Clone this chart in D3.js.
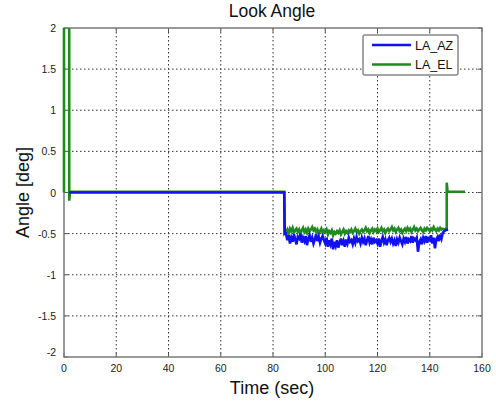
<!DOCTYPE html>
<html>
<head>
    <script src="https://d3js.org/d3.v7.min.js"></script>
    <style>
        body { margin: 0; background: #fff; }
        svg { font-family: "Liberation Sans", Arial, sans-serif; }
        .grid line { stroke: #333; stroke-width: 1; stroke-dasharray: 1.5,2.5; }
        .tick-label { font-size: 10.5px; fill: #222; }
    </style>
</head>
<body>
<div id="chart"></div>
<script>
    // axis ticks
    const xTicks = [0, 20, 40, 60, 80, 100, 120, 140, 160];
    const yTicks = [-2, -1.5, -1, -0.5, 0, 0.5, 1, 1.5, 2];

    // noisy segment, sampled every 0.5 s from 85 to 146 s
    const noiseStart = 85, noiseStep = 0.5;
    const azNoise = [
        -0.50,-0.58,-0.52,-0.62,-0.55,-0.60,-0.51,-0.57,-0.63,-0.54,
        -0.56,-0.50,-0.61,-0.55,-0.59,-0.53,-0.64,-0.56,-0.52,-0.60,
        -0.55,-0.62,-0.57,-0.51,-0.59,-0.54,-0.61,-0.56,-0.53,-0.58,
        -0.62,-0.55,-0.66,-0.58,-0.63,-0.56,-0.69,-0.60,-0.65,-0.58,
        -0.67,-0.61,-0.56,-0.64,-0.59,-0.66,-0.57,-0.62,-0.55,-0.60,
        -0.58,-0.63,-0.56,-0.61,-0.54,-0.59,-0.57,-0.62,-0.55,-0.60,
        -0.56,-0.64,-0.58,-0.53,-0.61,-0.57,-0.63,-0.55,-0.60,-0.58,
        -0.62,-0.56,-0.66,-0.59,-0.54,-0.61,-0.57,-0.64,-0.58,-0.55,
        -0.60,-0.56,-0.62,-0.58,-0.65,-0.57,-0.61,-0.55,-0.59,-0.63,
        -0.56,-0.60,-0.54,-0.62,-0.57,-0.59,-0.53,-0.61,-0.56,-0.58,
        -0.55,-0.72,-0.60,-0.57,-0.63,-0.55,-0.59,-0.53,-0.61,-0.56,
        -0.58,-0.52,-0.62,-0.55,-0.68,-0.57,-0.54,-0.59,-0.51,-0.56,
        -0.49,-0.47,-0.46
    ];
    const elNoise = [
        -0.48,-0.45,-0.50,-0.44,-0.47,-0.43,-0.49,-0.46,-0.44,-0.48,
        -0.45,-0.50,-0.46,-0.43,-0.48,-0.45,-0.49,-0.44,-0.47,-0.45,
        -0.42,-0.46,-0.44,-0.48,-0.45,-0.50,-0.47,-0.44,-0.49,-0.46,
        -0.48,-0.45,-0.51,-0.47,-0.49,-0.46,-0.52,-0.48,-0.50,-0.47,
        -0.49,-0.46,-0.51,-0.48,-0.45,-0.50,-0.47,-0.49,-0.46,-0.48,
        -0.45,-0.49,-0.47,-0.44,-0.48,-0.46,-0.50,-0.47,-0.45,-0.48,
        -0.46,-0.43,-0.47,-0.45,-0.49,-0.46,-0.44,-0.48,-0.45,-0.47,
        -0.44,-0.48,-0.46,-0.43,-0.47,-0.45,-0.49,-0.46,-0.44,-0.47,
        -0.45,-0.42,-0.46,-0.44,-0.48,-0.45,-0.43,-0.47,-0.45,-0.49,
        -0.46,-0.44,-0.47,-0.43,-0.46,-0.44,-0.48,-0.45,-0.42,-0.46,
        -0.44,-0.47,-0.45,-0.43,-0.46,-0.48,-0.44,-0.46,-0.43,-0.45,
        -0.47,-0.44,-0.46,-0.42,-0.45,-0.47,-0.44,-0.46,-0.43,-0.45,
        -0.44,-0.45,-0.44
    ];

    // steady parts of each trace [time, angle]
    const azHead = [[2, 0], [84.3, 0], [84.5, -0.5]];
    const azTail = [[147, -0.45]];
    const elHead = [[0, 0], [0, 3], [2, 3], [2, -0.1], [2.3, 0.01], [84.3, 0.01], [84.4, -0.5]];
    const elTail = [[146.5, -0.44], [146.5, 0.12], [146.8, 0.01], [153.5, 0.01]];

    const toPts = (arr) => arr.map((v, i) => [noiseStart + i * noiseStep, v]);
    const azData = azHead.concat(toPts(azNoise), azTail);
    const elData = elHead.concat(toPts(elNoise), elTail);

    const width = 496, height = 402;
    const margin = {top: 28, right: 14, bottom: 45, left: 64};

    const x = d3.scaleLinear().domain([0, 160]).range([margin.left, width - margin.right]);
    const y = d3.scaleLinear().domain([-2, 2]).range([height - margin.bottom, margin.top]);

    const svg = d3.select("#chart").append("svg")
        .attr("width", width)
        .attr("height", height);

    svg.append("defs").append("clipPath").attr("id", "clip")
        .append("rect")
        .attr("x", x(0) - 3).attr("y", y(2))
        .attr("width", x(160) - x(0) + 3).attr("height", y(-2) - y(2));

    // dotted grid
    const grid = svg.append("g").attr("class", "grid");
    grid.selectAll(".gx").data(xTicks.slice(1, -1)).join("line")
        .attr("x1", d => x(d)).attr("x2", d => x(d))
        .attr("y1", y(2)).attr("y2", y(-2));
    grid.selectAll(".gy").data(yTicks.slice(1, -1)).join("line")
        .attr("y1", d => y(d)).attr("y2", d => y(d))
        .attr("x1", x(0)).attr("x2", x(160));

    // inner ticks on all four sides
    const tk = svg.append("g").attr("stroke", "#555").attr("stroke-width", 1);
    xTicks.forEach(d => {
        tk.append("line").attr("x1", x(d)).attr("x2", x(d)).attr("y1", y(-2)).attr("y2", y(-2) - 4);
        tk.append("line").attr("x1", x(d)).attr("x2", x(d)).attr("y1", y(2)).attr("y2", y(2) + 4);
    });
    yTicks.forEach(d => {
        tk.append("line").attr("y1", y(d)).attr("y2", y(d)).attr("x1", x(0)).attr("x2", x(0) + 4);
        tk.append("line").attr("y1", y(d)).attr("y2", y(d)).attr("x1", x(160)).attr("x2", x(160) - 4);
    });

    // axes box
    svg.append("rect")
        .attr("x", x(0)).attr("y", y(2))
        .attr("width", x(160) - x(0)).attr("height", y(-2) - y(2))
        .attr("fill", "none").attr("stroke", "#7a7a7a").attr("stroke-width", 1.5);

    const line = d3.line().x(d => x(d[0])).y(d => y(d[1]));
    const plot = svg.append("g").attr("clip-path", "url(#clip)");

    plot.append("path").datum(elData)
        .attr("d", line).attr("fill", "none")
        .attr("stroke", "#1f8a1f").attr("stroke-width", 2.6);
    plot.append("path").datum(azData)
        .attr("d", line).attr("fill", "none")
        .attr("stroke", "#1010f0").attr("stroke-width", 2.6);

    // tick labels
    svg.append("g").selectAll("text").data(xTicks).join("text")
        .attr("class", "tick-label")
        .attr("x", d => x(d)).attr("y", y(-2) + 15)
        .attr("text-anchor", "middle")
        .text(d => d);
    svg.append("g").selectAll("text").data(yTicks).join("text")
        .attr("class", "tick-label")
        .attr("x", x(0) - 8)
        .attr("y", d => d === -2 ? y(d) - 1 : y(d) + 4)
        .attr("text-anchor", "end")
        .text(d => d);

    // titles
    svg.append("text")
        .attr("x", (x(0) + x(160)) / 2 - 1).attr("y", 17)
        .attr("text-anchor", "middle").attr("font-size", 17.5).attr("fill", "#111")
        .text("Look Angle");
    svg.append("text")
        .attr("x", (x(0) + x(160)) / 2 - 1).attr("y", 394)
        .attr("text-anchor", "middle").attr("font-size", 18).attr("fill", "#111")
        .text("Time (sec)");
    svg.append("text")
        .attr("transform", `translate(29,${y(0)}) rotate(-90)`)
        .attr("text-anchor", "middle").attr("font-size", 18).attr("fill", "#111")
        .text("Angle [deg]");

    // legend
    const series = ["LA_AZ", "LA_EL"];
    const colors = ["#1010f0", "#1f8a1f"];
    const lg = svg.append("g").attr("transform", "translate(363,35)");
    lg.append("rect")
        .attr("width", 95).attr("height", 40).attr("rx", 2)
        .attr("fill", "#fff").attr("stroke", "#888").attr("stroke-width", 1.5);
    series.forEach((s, i) => {
        const yy = 10 + i * 19.5;
        lg.append("line").attr("x1", 9).attr("x2", 48).attr("y1", yy).attr("y2", yy)
            .attr("stroke", colors[i]).attr("stroke-width", 2.6);
        lg.append("text").attr("x", 52).attr("y", yy + 4.5)
            .attr("font-size", 12.5).attr("fill", "#111").text(s);
    });
</script>
</body>
</html>
